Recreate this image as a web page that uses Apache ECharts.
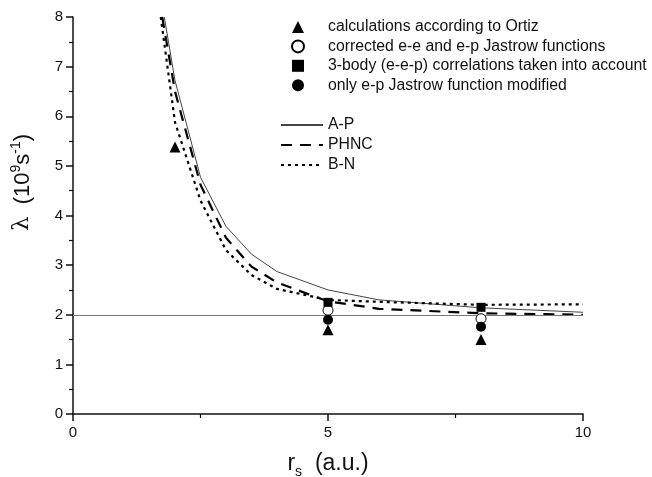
<!DOCTYPE html>
<html>
<head>
<meta charset="utf-8">
<script src="https://cdn.jsdelivr.net/npm/echarts@6/dist/echarts.min.js"></script>
<style>
  html, body { margin: 0; padding: 0; background: #fff; }
  #main { width: 652px; height: 477px; }
</style>
</head>
<body>
<div id="main"></div>
<script>
// curves, [rs, lambda]
var apCurve   = [[1.79, 8], [2, 6.72], [2.5, 4.77], [3, 3.78], [3.5, 3.22], [4, 2.87], [5, 2.5], [6, 2.3], [8, 2.14], [10, 2.05]];
var phncCurve = [[1.75, 8], [2, 6.5], [2.5, 4.62], [3, 3.55], [3.5, 2.97], [4, 2.65], [5, 2.27], [6, 2.12], [8, 2.03], [10, 2.0]];
var bnCurve   = [[1.72, 8], [2, 5.88], [2.5, 4.3], [3, 3.3], [3.5, 2.8], [4, 2.52], [5, 2.3], [6, 2.26], [8, 2.2], [10, 2.21]];

// calculated points
var ortiz     = [[2, 5.38], [5, 1.7], [8, 1.5]];
var corrected = [[5, 2.09], [8, 1.92]];
var threeBody = [[5, 2.25], [8, 2.15]];
var epOnly    = [[5, 1.9], [8, 1.76]];

var refLevel = 2;

var font = 'Liberation Sans, Arial, sans-serif';
var chart = echarts.init(document.getElementById('main'));

chart.setOption({
  backgroundColor: '#fff',
  animation: false,
  textStyle: { fontFamily: font },
  grid: { left: 73, right: 69, top: 17, bottom: 63, containLabel: false, outerBoundsMode: 'none' },
  legend: [{
    // points
    left: 291, top: 19, padding: 0, orient: 'vertical', width: 360,
    itemWidth: 12, itemHeight: 12, itemGap: 3.4,
    textStyle: { fontSize: 15.8, color: '#111', fontFamily: font, padding: [0, 0, 0, 19], overflow: 'none' },
    data: [
      { name: 'calculations according to Ortiz', icon: 'triangle' },
      { name: 'corrected e-e and e-p Jastrow functions' },
      { name: '3-body (e-e-p) correlations taken into account', icon: 'rect' },
      { name: 'only e-p Jastrow function modified', icon: 'circle' }
    ]
  }, {
    // curves
    left: 280, top: 117, padding: 0, orient: 'vertical',
    itemWidth: 42, itemHeight: 12, itemGap: 4,
    itemStyle: { color: 'transparent', borderColor: 'transparent', borderWidth: 0 },
    textStyle: { fontSize: 15.8, color: '#111', fontFamily: font },
    data: ['A-P', 'PHNC', 'B-N']
  }],
  xAxis: {
    type: 'value', min: 0, max: 10, interval: 5,
    name: '{r|r}{s|s}{r|  (a.u.)}',
    nameLocation: 'middle', nameGap: 35,
    nameTextStyle: {
      rich: {
        r: { fontSize: 23, color: '#111', fontFamily: font },
        s: { fontSize: 14, color: '#111', fontFamily: font, padding: [16, 0, 0, 0] }
      }
    },
    axisLine: { lineStyle: { color: '#111', width: 1.5 } },
    axisTick: { length: 7, lineStyle: { color: '#111', width: 1.5 } },
    minorTick: { show: true, splitNumber: 2, length: 4, lineStyle: { color: '#111', width: 1.2 } },
    axisLabel: { fontSize: 15, color: '#111', margin: 11 },
    splitLine: { show: false }
  },
  yAxis: {
    type: 'value', min: 0, max: 8, interval: 1,
    name: '{l|λ}{t|  (10}{p|9}{t|s}{p|-1}{t|)}',
    nameLocation: 'middle', nameGap: 37, nameRotate: 90,
    nameTextStyle: {
      padding: [0, 0, 0, 66],
      rich: {
        l: { fontSize: 23, color: '#111', fontFamily: 'DejaVu Serif, serif' },
        t: { fontSize: 22, color: '#111', fontFamily: font },
        p: { fontSize: 14, color: '#111', fontFamily: font, padding: [0, 0, 13, 0] }
      }
    },
    axisLine: { show: true, lineStyle: { color: '#111', width: 1.5 } },
    axisTick: { show: true, length: 7, lineStyle: { color: '#111', width: 1.5 } },
    minorTick: { show: true, splitNumber: 2, length: 4, lineStyle: { color: '#111', width: 1.2 } },
    axisLabel: { fontSize: 15, color: '#111', margin: 10 },
    splitLine: { show: false }
  },
  series: [
    {
      name: 'A-P', type: 'line', data: apCurve,
      showSymbol: false, symbol: 'none',
      lineStyle: { color: '#444', width: 1 },
      itemStyle: { color: '#444' },
      markLine: {
        silent: true, symbol: 'none', label: { show: false },
        lineStyle: { color: '#777', width: 1, type: 'solid' },
        data: [{ yAxis: refLevel }]
      },
      z: 3
    },
    {
      name: 'PHNC', type: 'line', data: phncCurve,
      showSymbol: false, symbol: 'none',
      lineStyle: { color: '#000', width: 2.2, type: [11, 8] },
      itemStyle: { color: '#000' },
      z: 3
    },
    {
      name: 'B-N', type: 'line', data: bnCurve,
      showSymbol: false, symbol: 'none',
      lineStyle: { color: '#000', width: 2.2, type: [3, 4] },
      itemStyle: { color: '#000' },
      z: 3
    },
    {
      name: 'calculations according to Ortiz', type: 'scatter', data: ortiz,
      symbol: 'triangle', symbolSize: 11,
      itemStyle: { color: '#000', opacity: 1 }, z: 5
    },
    {
      name: 'corrected e-e and e-p Jastrow functions', type: 'scatter', data: corrected,
      symbol: 'circle', symbolSize: 10,
      itemStyle: { color: '#fff', borderColor: '#000', borderWidth: 1, opacity: 1 }, z: 5
    },
    {
      name: '3-body (e-e-p) correlations taken into account', type: 'scatter', data: threeBody,
      symbol: 'rect', symbolSize: 9,
      itemStyle: { color: '#000', opacity: 1 }, z: 5
    },
    {
      name: 'only e-p Jastrow function modified', type: 'scatter', data: epOnly,
      symbol: 'circle', symbolSize: 10,
      itemStyle: { color: '#000', opacity: 1 }, z: 5
    }
  ]
});
</script>
</body>
</html>
